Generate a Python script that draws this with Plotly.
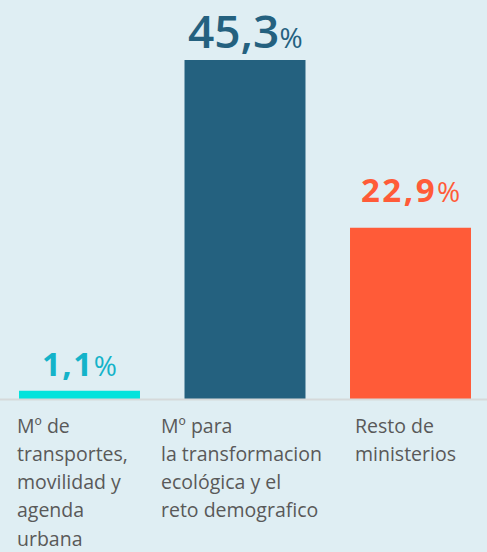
import plotly.graph_objects as go

# ---- data ----
categories = [
    "Mº de transportes, movilidad y agenda urbana",
    "Mº para la transformacion ecológica y el reto demografico",
    "Resto de ministerios",
]
values = [1.1, 45.3, 22.9]
value_text = ["1,1", "45,3", "22,9"]
label_lines = [
    ["Mº de", "transportes,", "movilidad y", "agenda", "urbana"],
    ["Mº para", "la transformacion", "ecológica y el", "reto demografico"],
    ["Resto de", "ministerios"],
]
bar_colors = ["#03e3dc", "#24617f", "#ff5b38"]
value_colors = ["#14b3c9", "#24617f", "#ff5b38"]

# ---- style / layout constants ----
W, H = 487, 552
BG = "#dfeef3"
TEXT = "#595959"
FONT = "Open Sans"
base_px = 399          # pixel row of baseline
val_sizes = [33, 46, 33]
val_weights = [700, 600, 700]
val_spacing = [1.5, 0, 2.5]
pct_sizes = [28, 28, 28]
val_shift = [3, -3, 14]
label_x_px = [15, 159, 353]
first_line_px = 425
line_gap = 28.3
label_size = 19.5

x_idx = list(range(len(categories)))

fig = go.Figure()
fig.add_trace(go.Bar(
    x=x_idx, y=values, marker_color=bar_colors, width=0.731,
    hovertext=categories, hoverinfo="text", marker_line_width=0,
))

annotations = []
for i, (v, t) in enumerate(zip(values, value_text)):
    annotations.append(dict(
        x=i, y=v, xref="x", yref="y", xanchor="center", yanchor="bottom",
        yshift=val_shift[i], showarrow=False,
        text=(f"<span style='letter-spacing:{val_spacing[i]}px'>{t}</span>"
              f"<span style='font-size:{pct_sizes[i]}px;font-weight:400;letter-spacing:0px'>%</span>"),
        font=dict(family=FONT, size=val_sizes[i], color=value_colors[i], weight=val_weights[i]),
    ))

for i, lines in enumerate(label_lines):
    for j, line in enumerate(lines):
        py = first_line_px + j * line_gap
        annotations.append(dict(
            x=label_x_px[i] / W, y=1 - py / H, xref="paper", yref="paper",
            xanchor="left", yanchor="middle", showarrow=False, text=line,
            font=dict(family=FONT, size=label_size, color=TEXT),
        ))

# y scale: 45.3 -> pixel 60, baseline at 399
px_per_unit = (base_px - 60) / 45.3
y_top = base_px / px_per_unit

fig.update_layout(
    width=W, height=H, margin=dict(l=0, r=0, t=0, b=0),
    paper_bgcolor=BG, plot_bgcolor=BG, showlegend=False,
    xaxis=dict(range=[-79.5 / 165.5, (W - 79.5) / 165.5], visible=False, fixedrange=True),
    yaxis=dict(range=[0, y_top], domain=[1 - base_px / H, 1], visible=False, fixedrange=True),
    annotations=annotations,
    shapes=[dict(type="line", xref="paper", yref="paper", x0=0, x1=1,
                 y0=1 - (base_px + 0.5) / H, y1=1 - (base_px + 0.5) / H,
                 line=dict(color="#d6d9da", width=2))],
)

fig.write_html(
    "out.html",
    config={"displayModeBar": False},
    post_script="document.body.style.margin='0px';document.body.style.overflow='hidden';document.body.style.background='#dfeef3';",
)
